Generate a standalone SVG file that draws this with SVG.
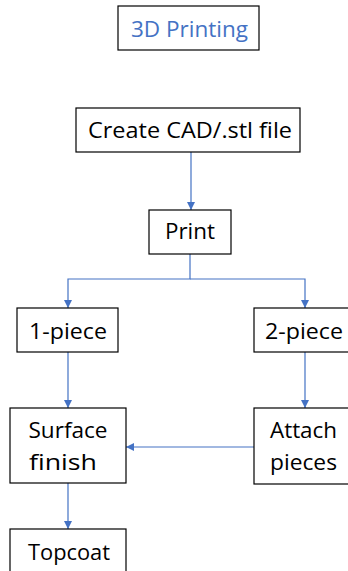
<svg xmlns="http://www.w3.org/2000/svg" width="348" height="571" viewBox="0 0 348 571">
<defs>
<style>
.box{fill:#fff;stroke:#000;stroke-width:1.2}
.t{font-family:"Open Sans","Liberation Sans",sans-serif;font-size:22px;fill:#000;text-anchor:middle}
.title{fill:#4472C4}
.c{fill:none;stroke:#4472C4;stroke-width:1.2}
</style>
<marker id="ah" viewBox="0 0 10 10" refX="10" refY="5" markerWidth="8" markerHeight="8" markerUnits="userSpaceOnUse" orient="auto">
<path d="M0,0 L10,5 L0,10 z" fill="#4472C4"/>
</marker>
</defs>
<rect width="348" height="571" fill="#fff"/>
<g id="connectors">
<path class="c" d="M191,152 V210" marker-end="url(#ah)"/>
<path class="c" d="M190,254 V279 H68 V308" marker-end="url(#ah)"/>
<path class="c" d="M190,279 H305 V308" marker-end="url(#ah)"/>
<path class="c" d="M68,352 V408" marker-end="url(#ah)"/>
<path class="c" d="M305,352 V408" marker-end="url(#ah)"/>
<path class="c" d="M254,447 H126" marker-end="url(#ah)"/>
<path class="c" d="M68,483 V529" marker-end="url(#ah)"/>
</g>
<g id="title">
<rect class="box" x="118" y="6" width="141" height="44"/>
<text class="t title" x="189.5" y="37" textLength="117" lengthAdjust="spacingAndGlyphs">3D Printing</text>
</g>
<g id="cad">
<rect class="box" x="76" y="108" width="224" height="44"/>
<text class="t" x="190" y="138" textLength="204" lengthAdjust="spacingAndGlyphs">Create CAD/.stl file</text>
</g>
<g id="print">
<rect class="box" x="149" y="210" width="82" height="44"/>
<text class="t" x="190" y="239" textLength="50" lengthAdjust="spacingAndGlyphs">Print</text>
</g>
<g id="one-piece">
<rect class="box" x="17" y="308" width="101" height="44"/>
<text class="t" x="68" y="339" textLength="78" lengthAdjust="spacingAndGlyphs">1-piece</text>
</g>
<g id="two-piece">
<rect class="box" x="254" y="308" width="100" height="44"/>
<text class="t" x="304" y="339" textLength="78" lengthAdjust="spacingAndGlyphs">2-piece</text>
</g>
<g id="surface-finish">
<rect class="box" x="10" y="408" width="116" height="75"/>
<text class="t" x="68" y="438" textLength="79" lengthAdjust="spacingAndGlyphs">Surface</text>
<text class="t" x="63" y="470" textLength="68" lengthAdjust="spacingAndGlyphs">finish</text>
</g>
<g id="attach-pieces">
<rect class="box" x="254" y="408" width="100" height="76"/>
<text class="t" x="303.5" y="438" textLength="67" lengthAdjust="spacingAndGlyphs">Attach</text>
<text class="t" x="303.5" y="470" textLength="67" lengthAdjust="spacingAndGlyphs">pieces</text>
</g>
<g id="topcoat">
<rect class="box" x="10" y="529" width="116" height="60"/>
<text class="t" x="69" y="560" textLength="82" lengthAdjust="spacingAndGlyphs">Topcoat</text>
</g>
</svg>
